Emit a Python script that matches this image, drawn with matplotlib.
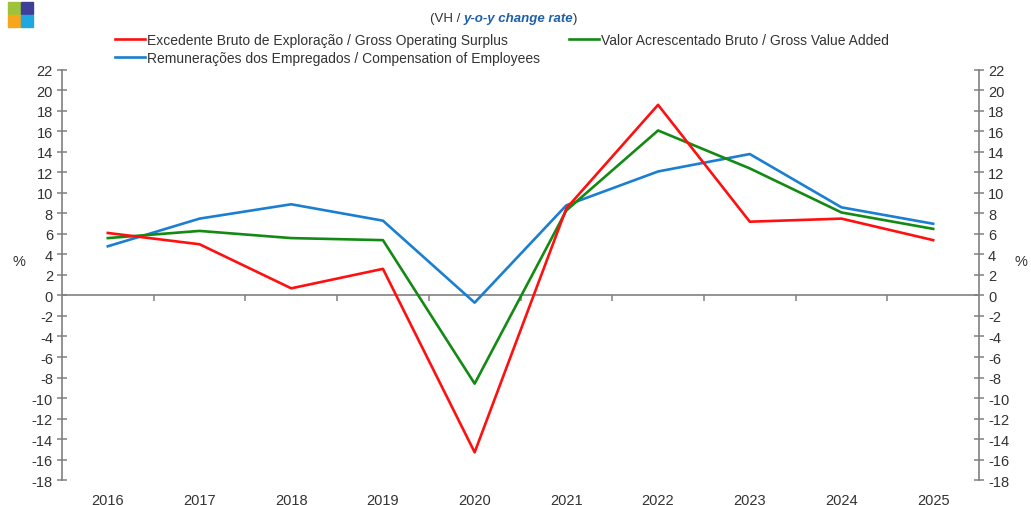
import matplotlib
matplotlib.use("Agg")
import matplotlib.pyplot as plt
import matplotlib.patches as patches
from matplotlib.markers import TICKDOWN

years = ["2016", "2017", "2018", "2019", "2020", "2021", "2022", "2023", "2024", "2025"]
surplus = [6.1, 5.0, 0.7, 2.6, -15.3, 8.5, 18.6, 7.2, 7.5, 5.4]
value_added = [5.6, 6.3, 5.6, 5.4, -8.6, 8.3, 16.1, 12.4, 8.1, 6.5]
compensation = [4.8, 7.5, 8.9, 7.3, -0.7, 8.8, 12.1, 13.8, 8.6, 7.0]

lbl_surplus = "Excedente Bruto de Exploração / Gross Operating Surplus"
lbl_value = "Valor Acrescentado Bruto / Gross Value Added"
lbl_comp = "Remunerações dos Empregados / Compensation of Employees"

plt.rcParams['font.family'] = ['Liberation Sans', 'DejaVu Sans']
plt.rcParams['axes.unicode_minus'] = False
axis_grey = '#808080'
text_col = '#333333'

fig = plt.figure(figsize=(10.31, 5.06), dpi=100)
ax = fig.add_axes([0.0601, 0.0494, 0.8895, 0.8103])

x = list(range(len(years)))
l_red, = ax.plot(x, surplus, color='#ff1010', lw=1.9, label=lbl_surplus, zorder=4)
l_blue, = ax.plot(x, compensation, color='#1a7fd0', lw=1.9, label=lbl_comp, zorder=3)
l_green, = ax.plot(x, value_added, color='#138a13', lw=1.9, label=lbl_value, zorder=3)

ax.set_xlim(-0.5, len(years) - 0.5)
ax.set_ylim(-18, 22)
ax.set_yticks(range(-18, 23, 2))

for side in ['top', 'bottom']:
    ax.spines[side].set_visible(False)
for side in ['left', 'right']:
    ax.spines[side].set_color(axis_grey)
    ax.spines[side].set_linewidth(1.2)

ax.tick_params(axis='y', direction='inout', length=7, width=1.1, color=axis_grey,
               left=True, right=True, labelleft=True, labelright=True,
               labelsize=10.5, labelcolor=text_col, pad=3)
ax.set_xticks(x)
ax.set_xticklabels(years)
ax.tick_params(axis='x', length=0, labelsize=10.5, labelcolor=text_col, pad=9)

# category axis crossing at zero, ticks between categories pointing down
ax.axhline(0, color=axis_grey, lw=1.2, zorder=2)
bounds = [i - 0.5 for i in range(1, len(years))]
ax.plot(bounds, [0] * len(bounds), linestyle='none', marker=TICKDOWN,
        markersize=4, markeredgewidth=1.1, color=axis_grey, zorder=2)

fig.text(0.018, 0.482, '%', fontsize=10.5, color=text_col, ha='center', va='center')
fig.text(0.990, 0.482, '%', fontsize=10.5, color=text_col, ha='center', va='center')

# legend
fig.legend(handles=[l_red, l_blue, l_green], ncol=2, frameon=False,
           loc='upper left', bbox_to_anchor=(0.1115, 0.933),
           fontsize=10, handlelength=2.15, handletextpad=0.15,
           columnspacing=2.1, labelspacing=0.3, borderaxespad=0, borderpad=0,
           labelcolor=text_col)

# subtitle
t1 = fig.text(0.417, 0.962, '(VH / ', fontsize=9.5, color=text_col, ha='left', va='center')
t2 = ax.annotate('y-o-y change rate', xy=(1, 0), xycoords=t1, fontsize=9.5,
                 color='#1f5fa8', fontstyle='italic', fontweight='bold',
                 ha='left', va='bottom', annotation_clip=False)
ax.annotate(')', xy=(1, 0), xycoords=t2, fontsize=9.5, color=text_col,
            ha='left', va='bottom', annotation_clip=False)

# logo squares
logo_cols = ['#9dc33b', '#3f3f9a', '#f7a61b', '#1fa8e0']
sq = 12.0
for i, c in enumerate(logo_cols):
    col, row = i % 2, i // 2
    x0 = (8 + col * (sq + 1)) / 1031
    y0 = 1 - (3 + (row + 1) * sq + row) / 506
    fig.patches.append(patches.Rectangle((x0, y0), sq / 1031, sq / 506,
                                         transform=fig.transFigure, color=c,
                                         figure=fig))

fig.savefig('out.png', dpi=100)
